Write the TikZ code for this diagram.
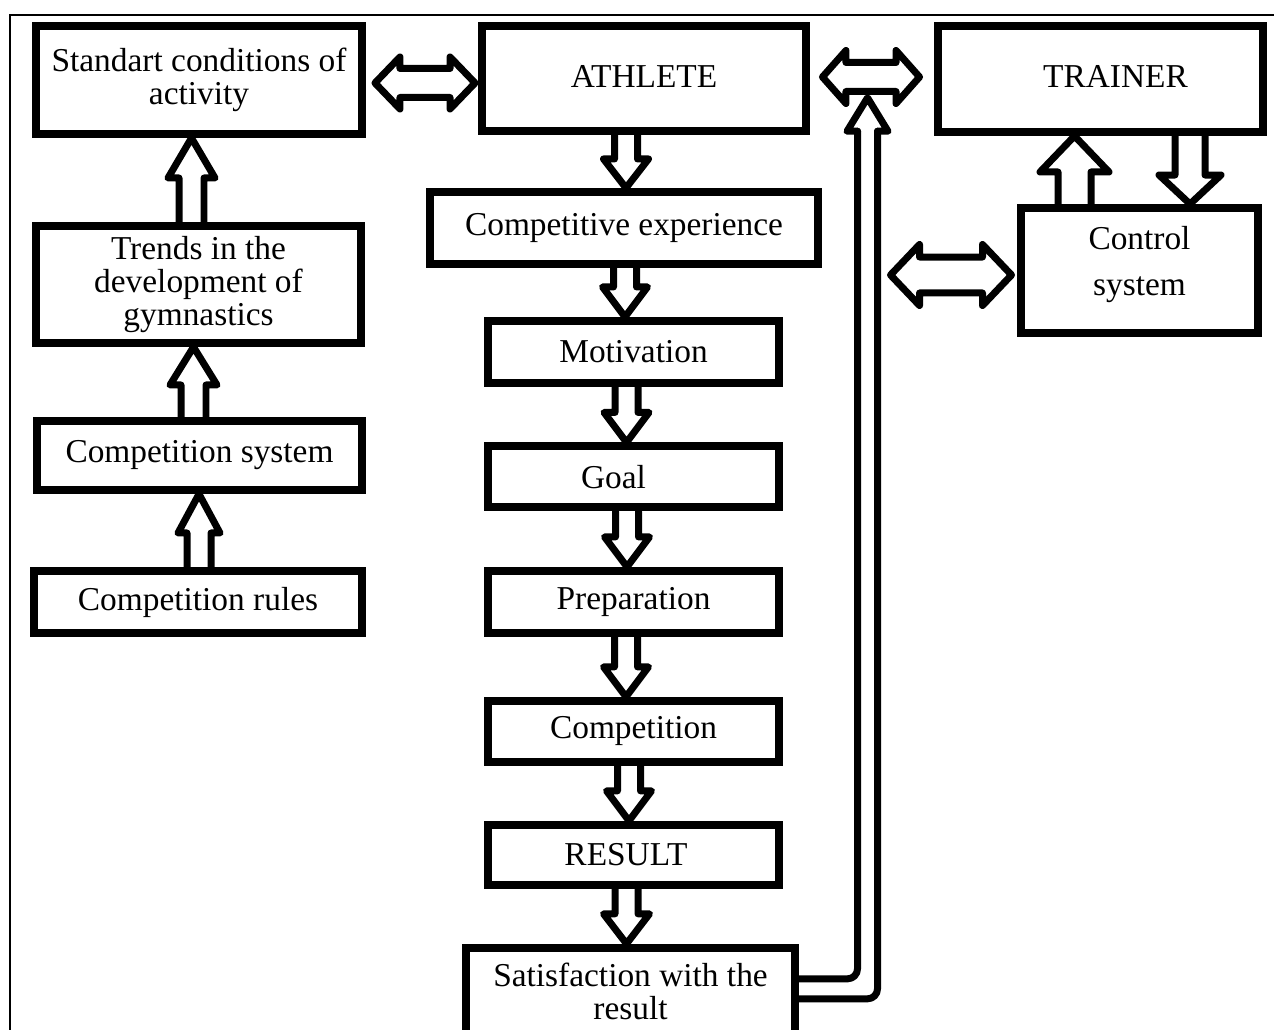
\documentclass[tikz,border=0pt]{standalone}
\usepackage{fontspec}
\setmainfont{Liberation Serif}
\usepackage{tikz}
\usetikzlibrary{calc}

% block arrows: tail, tip, shaft half width, head half width, head length (cm)
\newcommand{\varr}[5]{%
  \draw[blk] let \p1=(#1), \p2=(#2), \n1={sign(\y2-\y1)*#5cm} in
    ({\x1-#3cm},\y1) -- ({\x1-#3cm},{\y2-\n1}) -- ({\x1-#4cm},{\y2-\n1}) -- (\x1,\y2)
    -- ({\x1+#4cm},{\y2-\n1}) -- ({\x1+#3cm},{\y2-\n1}) -- ({\x1+#3cm},\y1);}
\newcommand{\harr}[5]{%
  \draw[blk] let \p1=(#1), \p2=(#2) in
    (\x1,\y1) -- ({\x1+#5cm},{\y1+#4cm}) -- ({\x1+#5cm},{\y1+#3cm}) -- ({\x2-#5cm},{\y1+#3cm})
    -- ({\x2-#5cm},{\y1+#4cm}) -- (\x2,\y1) -- ({\x2-#5cm},{\y1-#4cm}) -- ({\x2-#5cm},{\y1-#3cm})
    -- ({\x1+#5cm},{\y1-#3cm}) -- ({\x1+#5cm},{\y1-#4cm}) -- cycle;}

\begin{document}
\begin{tikzpicture}[x=0.02cm,y=-0.02cm,node distance=2.5cm,
    box/.style={draw,line width=0.16cm,inner sep=0pt,align=center,font=\fontsize{19}{18.8}\selectfont},
    blk/.style={draw,line width=0.14cm,line join=round,line cap=round}]
        \useasboundingbox (0,0) rectangle (1274,1030);
        \draw[line width=0.04cm] (10,1030) |- (1274,15);

        \node[box,minimum width=6.52cm,minimum height=2.16cm] (std) at (199,80) {Standart conditions of\\activity};
        \node[box,minimum width=6.5cm,minimum height=2.34cm] (trends) at (198.5,284.5) {Trends in the\\development of\\gymnastics};
        \node[box,minimum width=6.5cm,minimum height=1.38cm] (compsys) at (199.5,455.5) {Competition system};
        \node[box,minimum width=6.56cm,minimum height=1.24cm] (rules) at (198,602) {Competition rules};

        \node[box,minimum width=6.48cm,minimum height=2.1cm] (athlete) at (644,78.5) {\raisebox{0.1cm}{ATHLETE}};
        \node[box,minimum width=7.76cm,minimum height=1.44cm] (compexp) [below of=athlete,node distance=2.99cm,xshift=-0.4cm] {Competitive experience};
        \node[box,minimum width=5.82cm,minimum height=1.24cm] (motiv) [below of=compexp,node distance=2.48cm,xshift=0.19cm] {Motivation};
        \node[box,minimum width=5.82cm,minimum height=1.22cm] (goal) [below of=motiv] {Goal\hspace*{0.8cm}};
        \node[box,minimum width=5.82cm,minimum height=1.24cm] (prep) [below of=goal] {Preparation};
        \node[box,minimum width=5.82cm,minimum height=1.22cm] (compet) [below of=prep,node distance=2.59cm] {Competition};
        \node[box,minimum width=5.82cm,minimum height=1.2cm] (result) [below of=compet,node distance=2.47cm] {RESULT\hspace*{0.3cm}};
        \node[box,minimum width=6.58cm,minimum height=1.76cm] (satisf) [below of=result,node distance=2.74cm,xshift=-0.06cm] {Satisfaction with the\\result};

        \node[box,minimum width=6.5cm,minimum height=2.12cm] (trainer) at (1100.5,79) {\raisebox{0.1cm}{\hspace*{0.6cm}TRAINER}};
        \node[box,minimum width=4.74cm,minimum height=2.5cm] (control) at (1139.5,270.5) {Control\\[0.26cm]system\\[-0.26cm]};

        \coordinate (hub) at ($(athlete.east)!0.5!(trainer.west)+(-1,-2)$);
        \coordinate (fbtip) at ($(hub)+(-3.5,21)$);

        \varr{$(trends.north)+(-7,0)$}{std.south}{0.25}{0.47}{0.8}
        \varr{$(compsys.north)+(-6,0)$}{trends.south}{0.25}{0.47}{0.76}
        \varr{$(rules.north)+(1,0)$}{compsys.south}{0.24}{0.42}{0.78}

        \varr{$(athlete.south)+(-18,0)$}{compexp.north}{0.23}{0.45}{0.58}
        \varr{$(compexp.south)+(1,0)$}{motiv.north}{0.23}{0.45}{0.6}
        \varr{$(motiv.south)+(-7,0)$}{goal.north}{0.23}{0.45}{0.6}
        \varr{$(goal.south)+(-6.5,0)$}{prep.north}{0.23}{0.45}{0.6}
        \varr{$(prep.south)+(-7.5,0)$}{compet.north}{0.23}{0.45}{0.6}
        \varr{$(compet.south)+(-4.5,0)$}{result.north}{0.23}{0.45}{0.6}
        \varr{$(result.south)+(-7,0)$}{satisf.north}{0.23}{0.46}{0.6}

        \varr{$(control.north)+(-65,0)$}{trainer.south}{0.33}{0.69}{0.72}
        \varr{$(trainer.south)+(89.5,0)$}{control.north}{0.3}{0.62}{0.58}

        \harr{$(std.east)+(9,3)$}{$(athlete.west)+(-3,0)$}{0.29}{0.52}{0.5}
        \harr{$(athlete.east)+(12.5,-1.5)$}{$(trainer.west)+(-14.5,0)$}{0.29}{0.53}{0.47}
        \harr{$(hub |- control.west)+(19.5,4.5)$}{$(control.west)+(-5.5,0)$}{0.36}{0.61}{0.58}

        \draw[blk,rounded corners=0.2cm] let \p1=(satisf.east), \p2=(fbtip) in
            (\x1,{\y1+0.26cm}) -| ({\x2-0.2cm},{\y2-0.67cm})
            (\x1,{\y1-0.14cm}) -| ({\x2+0.2cm},{\y2-0.67cm});
        \draw[blk] let \p2=(fbtip) in
            ({\x2-0.2cm},{\y2-0.67cm}) -- ({\x2-0.41cm},{\y2-0.67cm}) -- (\x2,\y2)
            -- ({\x2+0.41cm},{\y2-0.67cm}) -- ({\x2+0.2cm},{\y2-0.67cm});
    \end{tikzpicture}
\end{document}
